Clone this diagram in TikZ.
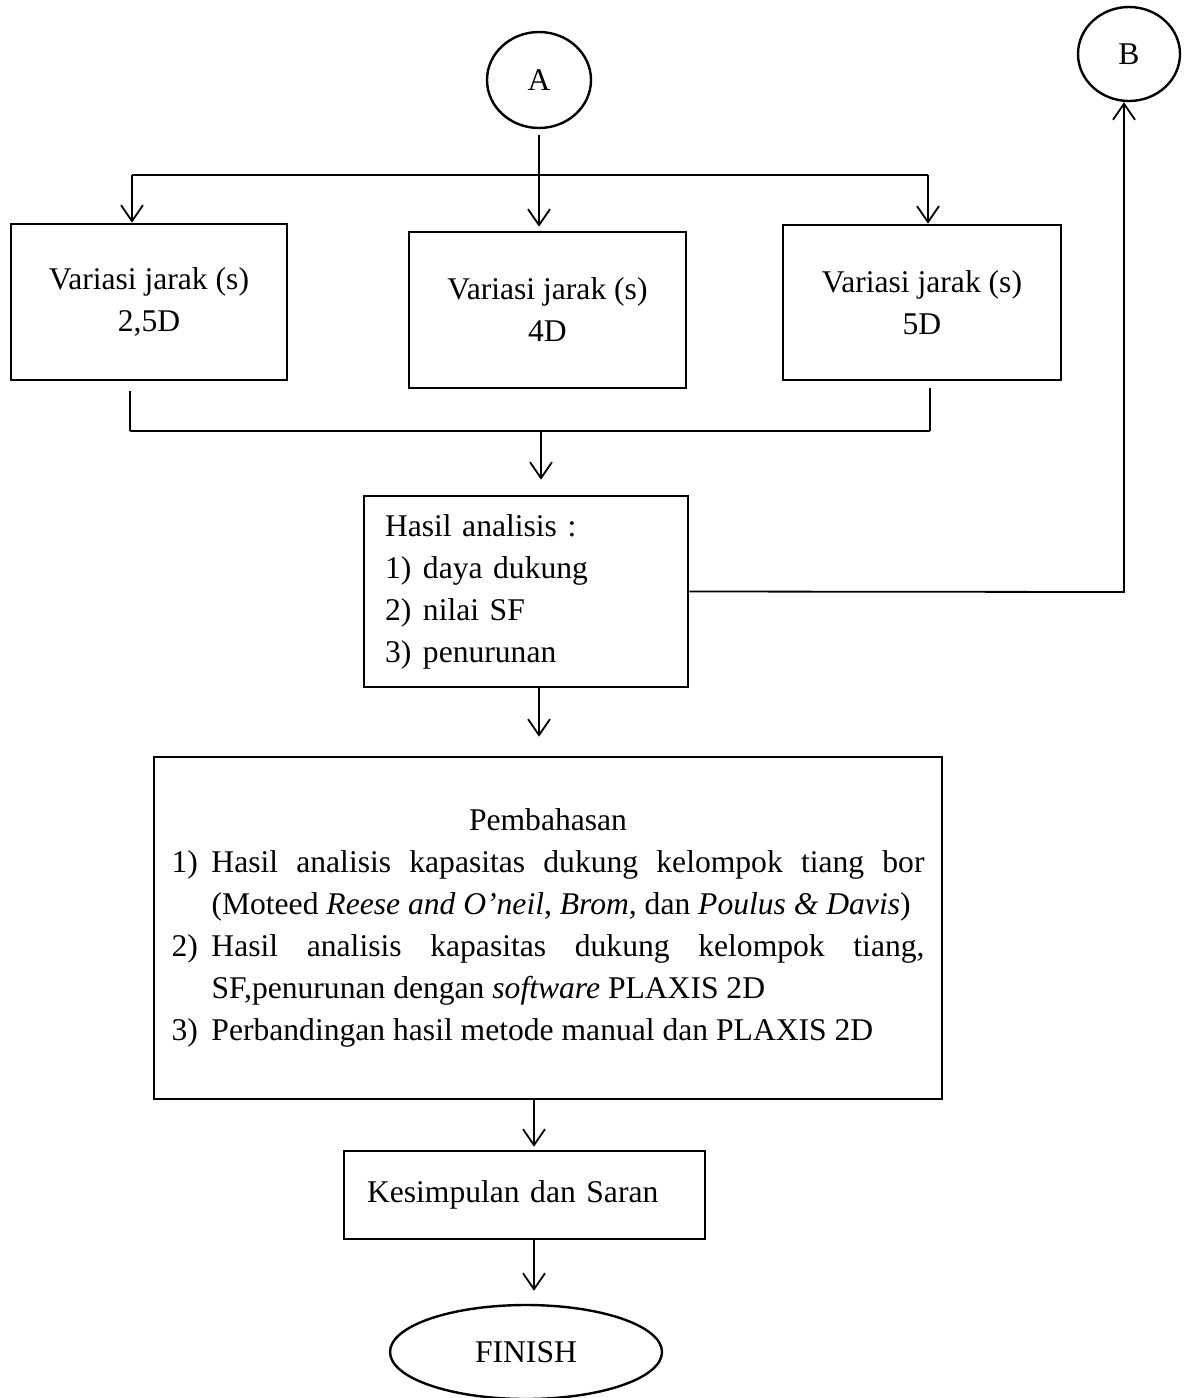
\documentclass[tikz,border=0pt]{standalone}
\usepackage{fontspec}
\setmainfont{Liberation Serif}
\usetikzlibrary{arrows.meta,shapes.geometric}
\tikzset{
  base/.style={font=\fontsize{31.6pt}{42pt}\selectfont},
  box/.style={base, draw, line width=2.6pt, inner sep=0pt},
  conn/.style={line width=1.8pt},
  arr/.style={conn, -{Straight Barb[length=16pt,width=22pt]}},
  oval/.style={base, draw, ellipse, line width=2.4pt, inner sep=0pt},
}
\begin{document}
\begin{tikzpicture}[x=1pt,y=-1pt]
\useasboundingbox (0,0) rectangle (1190,1398);

% terminals
\node[oval, minimum width=104pt, minimum height=96pt] (A) at (539,80) {A};
\node[oval, minimum width=102pt, minimum height=94pt] (B) at (1129,54) {B};
\node[oval, minimum width=272pt, minimum height=94pt] (fin) at (526,1352) {FINISH};

% variation boxes
\node[box, minimum width=276pt, minimum height=156pt, align=center] (b1) at (149,302) {Variasi jarak (s)\\2,5D};
\node[box, minimum width=277pt, minimum height=156pt, align=center] (b2) at (547.5,310) {Variasi jarak (s)\\4D};
\node[box, minimum width=278pt, minimum height=155pt, align=center] (b3) at (922,302.5) {Variasi jarak (s)\\5D};

% results
\node[box, text width=282pt, inner xsep=21pt, align=left, minimum height=191pt] (hasil) at (526,591.5)
  {Hasil analisis :\\\makebox[38pt][l]{1)}daya dukung\\\makebox[38pt][l]{2)}nilai SF\\\makebox[38pt][l]{3)}penurunan};

% discussion
\node[box, text width=753pt, inner xsep=17.5pt, minimum height=342pt, align=justify] (pemb) at (548,928)
  {\parindent=0pt\hyphenpenalty=10000
   {\centering Pembahasan\par}
   \noindent\hangindent=40pt\hangafter=1\makebox[40pt][l]{1)}Hasil analisis kapasitas dukung kelompok tiang bor\linebreak (Moteed \textit{Reese and O'neil}, \textit{Brom,} dan \textit{Poulus \& Davis})\par
   \noindent\hangindent=40pt\hangafter=1\makebox[40pt][l]{2)}Hasil analisis kapasitas dukung kelompok tiang,\linebreak SF,penurunan dengan \textit{software} PLAXIS 2D\par
   \noindent\hangindent=40pt\hangafter=1\makebox[40pt][l]{3)}Perbandingan hasil metode manual dan PLAXIS 2D\par};

% conclusion
\node[box, text width=315pt, inner xsep=23pt, align=left, minimum height=88pt] (kes) at (524.5,1195) {Kesimpulan dan Saran};

% junctions
\coordinate (jt) at (539,175);
\coordinate (jl) at (132,175);
\coordinate (jr) at (928,175);
\coordinate (bl) at (130,431);
\coordinate (br) at (930,431);
\coordinate (bm) at (541,431);
\coordinate (cB) at (1124,592);

% top branching
\draw[conn, shorten <=6pt] (A.south) -- (jt);
\draw[conn] (jl) -- (jr);
\draw[arr] (jl) -- (jl |- b1.north);
\draw[arr, shorten >=4pt] (jt) -- (jt |- b2.north);
\draw[arr] (jr) -- (jr |- b3.north);

% bottom merge
\draw[conn, shorten <=10pt] (bl |- b1.south) -- (bl);
\draw[conn, shorten <=7pt] (br |- b3.south) -- (br);
\draw[conn] (bl) -- (br);
\draw[arr, shorten >=15pt] (bm) -- (bm |- hasil.north);

% to B
\draw[arr] (hasil.east) -- (cB) -- (cB |- B.south);

% main flow
\draw[arr, shorten >=19pt] ([xshift=13pt]hasil.south) -- ([xshift=13pt]hasil.south |- pemb.north);
\draw[arr, shorten >=3pt] ([xshift=-14pt]pemb.south) -- ([xshift=-14pt]pemb.south |- kes.north);
\draw[arr, shorten >=13pt] ([xshift=9.5pt]kes.south) -- ([xshift=9.5pt]kes.south |- fin.north);
\end{tikzpicture}
\end{document}
